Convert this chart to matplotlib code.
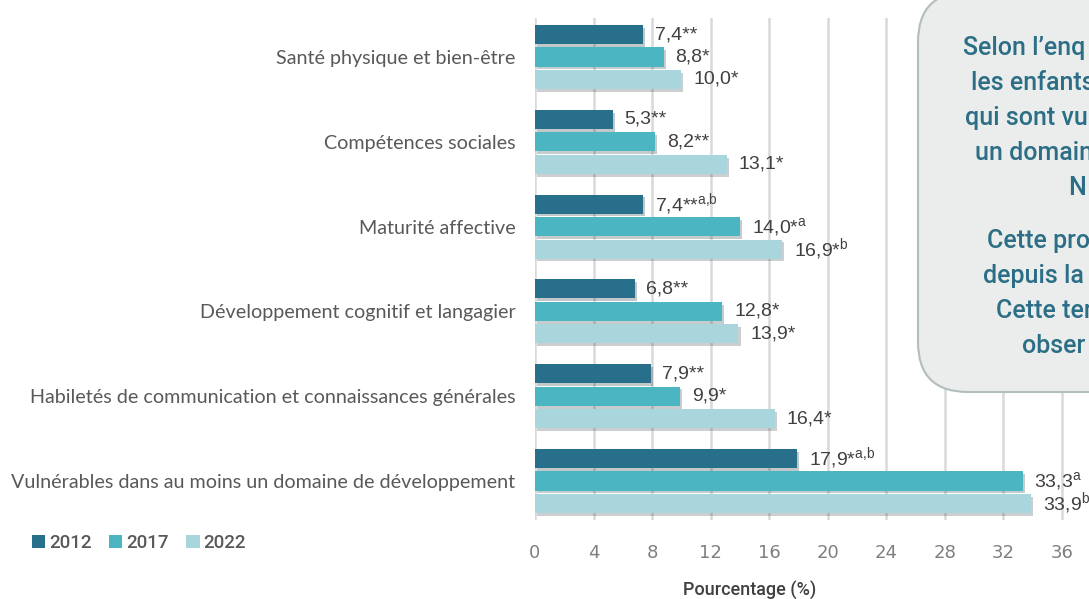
import numpy as np
import matplotlib
matplotlib.use("Agg")
import matplotlib.pyplot as plt
from matplotlib.patches import FancyBboxPatch, Patch
import matplotlib.patheffects as pe

# domaines (de haut en bas)
categories = ["Santé physique et bien-être",
              "Compétences sociales",
              "Maturité affective",
              "Développement cognitif et langagier",
              "Habiletés de communication et connaissances générales",
              "Vulnérables dans au moins un domaine de développement"]
years = ["2012", "2017", "2022"]

v2012 = [7.4, 5.3, 7.4, 6.8, 7.9, 17.9]
v2017 = [8.8, 8.2, 14.0, 12.8, 9.9, 33.3]
v2022 = [10.0, 13.1, 16.9, 13.9, 16.4, 33.9]

# etiquettes : texte principal + exposant
lab2012 = ["7,4**", "5,3**", "7,4**", "6,8**", "7,9**", "17,9*"]
sup2012 = ["", "", "a{,}b", "", "", "a{,}b"]
lab2017 = ["8,8*", "8,2**", "14,0*", "12,8*", "9,9*", "33,3"]
sup2017 = ["", "", "a", "", "", "a"]
lab2022 = ["10,0*", "13,1*", "16,9*", "13,9*", "16,4*", "33,9"]
sup2022 = ["", "", "b", "", "", "b"]

box_lines = ["Selon l’enq", "les enfants", "qui sont vu", "un domain", "N",
             "Cette pro", "depuis la", "Cette ter", "obser"]
box_x = [963, 971, 965, 975, 1068, 987, 983, 996, 1022]
box_y = [48, 83, 118, 153, 188, 241, 276, 311, 346]

colors = ["#276F8A", "#4BB6C2", "#A9D6DD"]
plt.rcParams['mathtext.fontset'] = 'custom'
plt.rcParams['mathtext.rm'] = 'Liberation Sans'

W, H = 1089, 599
fig = plt.figure(figsize=(W / 100, H / 100), dpi=100)
unit = 14.64  # px par point de pourcentage
x0 = 535
ax = fig.add_axes([x0 / W, (H - 520) / H, 40 * unit / W, 502 / H])

y = np.arange(len(categories))
pitch = 0.265
hgt = 0.225
series = [(v2012, lab2012, sup2012), (v2017, lab2017, sup2017), (v2022, lab2022, sup2022)]
for i, (vals, labs, sups) in enumerate(series):
    pos = y + (i - 1) * pitch
    bars = ax.barh(pos, vals, height=hgt, color=colors[i], zorder=3, label=years[i])
    for b in bars:
        b.set_path_effects([pe.SimplePatchShadow(offset=(1.5, -2), alpha=0.25), pe.Normal()])
    for p, v, l, s in zip(pos, vals, labs, sups):
        txt = l if s == "" else l + r"$\mathregular{^{" + s + "}}$"
        ax.text(v + 0.8, p, txt, va="center", ha="left", fontsize=14,
                family="Liberation Sans", color="#404040", zorder=4)

ax.set_ylim(5.46, -0.46)
ax.set_xlim(0, 40)
ax.set_xticks(range(0, 37, 4))
ax.set_yticks(y)
ax.set_yticklabels(categories, fontsize=14.2, color="#595959", family="Lato")
ax.tick_params(axis="y", length=0, pad=14)
ax.tick_params(axis="x", length=0, pad=17, labelsize=13, labelcolor="#7F7F7F")
ax.grid(axis="x", color="#D9D9D9", linewidth=1.8, zorder=0)
for s in ax.spines.values():
    s.set_visible(False)

fig.text(750 / W, 1 - 590 / H, "Pourcentage (%)", ha="center", va="center",
         fontsize=13, color="#404040", family="Roboto", weight="medium")

handles = [Patch(facecolor=c) for c in colors]
fig.legend(handles, years, loc="center left", bbox_to_anchor=(32 / W, 1 - 543 / H),
           ncol=3, frameon=False, handlelength=0.7, handleheight=0.7,
           handletextpad=0.2, columnspacing=0.95, borderpad=0, borderaxespad=0,
           prop={"family": "Roboto", "size": 13.5, "weight": "medium"}, labelcolor="#595959")

# encadre de texte (coupe a droite comme dans l'original)
box = FancyBboxPatch((9.18, 2.07), 3.0, 4.0, boxstyle="round,pad=0,rounding_size=0.5",
                     transform=fig.dpi_scale_trans, facecolor="#EBEDED",
                     edgecolor="#B3BCBE", linewidth=1.5, zorder=5)
fig.patches.append(box)
for t, bx, by in zip(box_lines, box_x, box_y):
    fig.text(bx / W, 1 - by / H, t, ha="left", va="center", fontsize=18,
             color="#2B6E86", family="Roboto", weight="medium", zorder=6)

fig.savefig("out.png", dpi=100)
